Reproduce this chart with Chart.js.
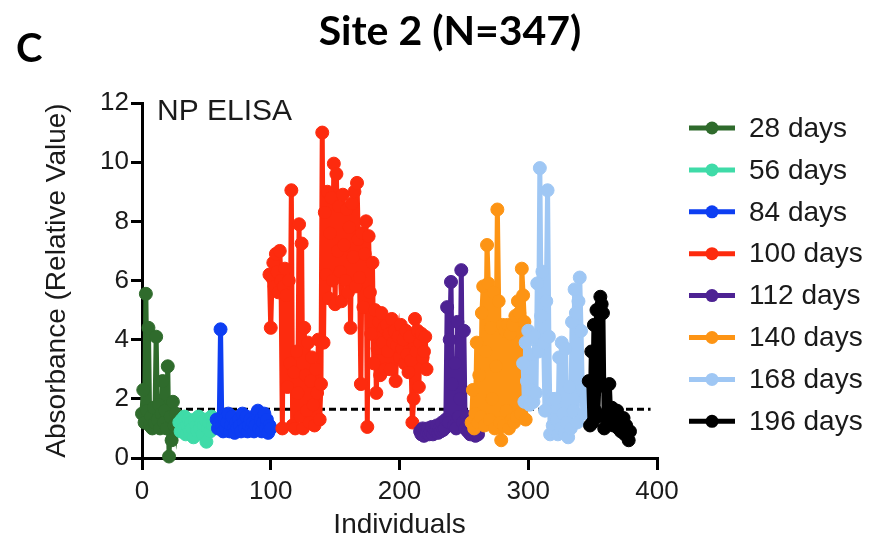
<!DOCTYPE html>
<html>
<head>
<meta charset="utf-8">
<script src="https://cdn.jsdelivr.net/npm/chart.js@4.4.0/dist/chart.umd.min.js"></script>
<style>
  html, body { margin: 0; padding: 0; background: #ffffff; }
  #wrap { width: 883px; height: 547px; position: relative; }
</style>
</head>
<body>
<div id="wrap"><canvas id="c" width="883" height="547"></canvas></div>
<script>
// ---- Data ----
const categories = ['28 days', '56 days', '84 days', '100 days', '112 days', '140 days', '168 days', '196 days'];
const colors = ['#2f6b2c', '#3fdba8', '#0d3ef2', '#fd2b0e', '#4d2293', '#fd9414', '#9fc7f4', '#000000'];
const joins = ['miter', 'round', 'round', 'miter', 'round', 'miter', 'round', 'round'];
// first individual index of each group (x = start + position in group)
const xStarts = [0, 29, 58, 99, 216, 256, 296, 347];

const y28 = [1.5, 2.3, 1.2, 5.55, 1.6, 4.4, 1.1, 1.4, 1.0, 1.7, 1.2, 4.1, 1.3, 1.8, 1.0, 1.5, 2.6, 1.2, 1.6, 1.0, 3.1, 0.05, 1.4, 0.6, 1.9, 1.1, 1.5, 1.0, 1.3];
const y56 = [1.2, 0.9, 1.3, 1.0, 1.4, 0.8, 1.1, 1.3, 0.9, 1.2, 1.0, 0.7, 1.3, 1.1, 0.9, 1.4, 1.0, 1.2, 0.8, 1.1, 1.3, 0.55, 1.0, 1.2, 0.9, 1.4, 1.1, 1.3];
const y84 = [1.3, 1.0, 1.2, 4.35, 1.1, 0.9, 1.3, 1.0, 1.2, 1.5, 0.9, 1.1, 1.4, 1.0, 0.85, 1.2, 1.0, 1.3, 1.1, 0.9, 1.5, 1.2, 1.0, 1.4, 0.9, 1.1, 1.3, 1.0, 1.2, 0.9, 1.1, 1.5, 1.6, 1.0, 1.3, 0.9, 1.2, 1.5, 1.0, 1.3, 0.85, 1.1, 1.0];
const y100 = [6.2, 4.4, 6.1, 6.6, 5.8, 6.9, 6.3, 5.6, 7.0, 6.0, 1.0, 5.8, 6.4, 5.5, 2.4, 6.0, 3.2, 9.05, 1.1, 2.9,
              1.0, 3.6, 2.2, 7.9, 1.4, 7.25, 1.0, 4.4, 2.8, 1.6, 3.9, 1.2, 2.6, 3.4, 1.8, 1.1, 3.0, 2.2, 4.0, 1.3,
              2.5, 11.0, 3.9, 8.3, 6.2, 9.0, 5.4, 7.6, 8.8, 6.0, 9.95, 5.2, 9.6, 7.0, 8.5, 6.3, 5.3, 8.9, 7.2, 6.0,
              8.4, 5.6, 7.8, 4.4, 8.6, 6.8, 9.0, 5.8, 9.3, 7.4, 6.1, 2.5, 7.6, 5.1, 6.9, 8.0, 1.05, 7.5, 5.6, 4.2,
              6.6, 3.2, 5.0, 2.2, 3.7, 4.6, 2.8, 4.9, 3.9, 4.4, 3.0, 4.5, 3.6, 4.2, 3.0, 4.7, 3.9, 4.3, 2.6, 3.8,
              4.1, 3.4, 4.5, 3.7, 4.0, 3.2, 4.3, 3.5, 2.9, 4.1, 3.3, 1.2, 2.0, 4.7, 3.6, 4.3, 2.4, 3.9, 4.2, 3.4,
              3.6, 4.1, 3.0];
const y112 = [0.9, 0.8, 1.0, 0.75, 0.95, 0.85, 1.0, 0.8, 0.9, 1.05, 0.8, 0.95, 0.9, 1.1, 0.85, 1.0, 0.9, 1.2, 0.95, 1.0,
              1.3, 5.1, 1.2, 4.0, 5.95, 2.5, 1.1, 3.2, 1.0, 4.6, 1.4, 2.0, 6.35, 1.2, 4.3, 1.0, 1.4, 0.9, 1.2, 0.8,
              1.1, 0.9, 1.0, 0.75, 0.9, 0.8];
const y140 = [1.2, 2.3, 1.0, 1.5, 3.9, 1.2, 2.8, 1.4, 4.9, 5.8, 1.1, 3.6, 7.2, 5.9, 1.3, 4.4, 2.0, 5.6, 1.0, 3.1,
              8.4, 5.3, 1.2, 0.6, 4.5, 1.1, 4.3, 1.6, 4.5, 1.0, 4.2, 1.3, 4.5, 1.2, 4.8, 1.4, 5.3, 4.9, 1.5, 6.4,
              5.5, 4.6, 1.3];
const y168 = [3.2, 1.9, 3.9, 2.6, 4.3, 1.8, 2.3, 3.5, 1.9, 4.1, 2.2, 5.9, 3.6, 9.8, 4.8, 6.3, 3.9, 1.6, 5.3, 9.05,
              4.1, 0.8, 2.0, 1.1, 0.95, 2.0, 1.3, 0.8, 3.4, 1.0, 3.9, 1.5, 0.85, 3.7, 1.2, 0.7, 2.4, 1.0, 4.6, 1.6,
              5.7, 4.9, 1.2, 5.3, 6.1, 4.3, 2.3, 1.5, 2.0, 1.8, 2.2];
const y196 = [2.6, 1.1, 3.6, 1.2, 4.5, 1.6, 5.0, 1.4, 2.7, 5.45, 5.2, 4.9, 1.0, 2.4, 1.5, 1.2, 2.5, 1.4, 1.7, 1.1,
              1.5, 1.2, 1.6, 1.0, 1.3, 0.9, 1.2, 1.35, 0.8, 1.1, 0.95, 0.6, 0.9];
const seriesValues = [y28, y56, y84, y100, y112, y140, y168, y196];

const thresholdValue = 1.65;
const thresholdRange = [0, 395];
const xTicks = [0, 100, 200, 300, 400];
const yTicks = [0, 2, 4, 6, 8, 10, 12];

// ---- Build datasets ----
const datasets = seriesValues.map((vals, k) => ({
  label: categories[k],
  data: vals.map((v, i) => ({ x: xStarts[k] + i, y: v })),
  showLine: true,
  borderColor: colors[k],
  backgroundColor: colors[k],
  pointBackgroundColor: colors[k],
  pointBorderColor: colors[k],
  pointBorderWidth: 1,
  pointRadius: 6.5,
  borderWidth: 5,
  borderJoinStyle: joins[k],
  clip: false,
  order: 50 - k
}));
datasets.push({
  label: 'threshold',
  data: thresholdRange.map(x => ({ x: x, y: thresholdValue })),
  showLine: true,
  borderColor: '#000000',
  borderWidth: 3,
  borderDash: [7, 4],
  pointRadius: 0,
  clip: false,
  order: 100
});

const FONT = "'Liberation Sans', Arial, Helvetica, sans-serif";
const TXT = '#1a1a1a';

const decorPlugin = {
  id: 'decor',
  afterDraw(chart) {
    const ctx = chart.ctx;
    ctx.save();
    // panel letter
    ctx.fillStyle = '#000';
    ctx.font = "bold 40px Lato, 'Open Sans', sans-serif";
    ctx.textAlign = 'left';
    ctx.textBaseline = 'alphabetic';
    ctx.fillText('C', 16, 62);
    // title
    ctx.textAlign = 'center';
    ctx.font = "bold 41px Lato, 'Open Sans', sans-serif";
    ctx.fillText('Site 2 (N=347)', 450, 45);
    // inner label
    ctx.textAlign = 'left';
    ctx.fillStyle = TXT;
    ctx.font = '30px ' + FONT;
    ctx.fillText('NP ELISA', 157, 120);
    // legend
    const rowY0 = 128, rowStep = 41.9;
    ctx.font = '28px ' + FONT;
    ctx.textBaseline = 'middle';
    categories.forEach((lab, k) => {
      const y = rowY0 + k * rowStep;
      ctx.strokeStyle = colors[k];
      ctx.lineWidth = 5;
      ctx.setLineDash([]);
      ctx.beginPath();
      ctx.moveTo(689, y);
      ctx.lineTo(735, y);
      ctx.stroke();
      ctx.fillStyle = colors[k];
      ctx.beginPath();
      ctx.arc(712, y, 6.5, 0, Math.PI * 2);
      ctx.fill();
      ctx.fillStyle = TXT;
      ctx.fillText(lab, 749, y + 1);
    });
    ctx.restore();
  }
};

new Chart(document.getElementById('c'), {
  type: 'scatter',
  data: { datasets: datasets },
  options: {
    responsive: false,
    animation: false,
    layout: { padding: { left: 0, right: 226, top: 103, bottom: 0 } },
    plugins: { legend: { display: false }, tooltip: { enabled: false }, title: { display: false } },
    scales: {
      x: {
        type: 'linear', min: 0, max: 400,
        afterBuildTicks: s => { s.ticks = xTicks.map(v => ({ value: v })); },
        afterFit: s => { s.height = 89; },
        ticks: { font: { family: FONT, size: 26 }, color: TXT, padding: 6, maxRotation: 0 },
        grid: { display: true, drawOnChartArea: false, drawTicks: true, tickLength: 12, lineWidth: 3, color: '#000' },
        border: { display: true, color: '#000', width: 3 },
        title: { display: true, text: 'Individuals', font: { family: FONT, size: 28 }, color: TXT, padding: { top: 0, bottom: 5 } }
      },
      y: {
        type: 'linear', min: 0, max: 12,
        afterBuildTicks: s => { s.ticks = yTicks.map(v => ({ value: v })); },
        afterFit: s => { s.width = 142; },
        ticks: { font: { family: FONT, size: 26 }, color: TXT, padding: 2 },
        grid: { display: true, drawOnChartArea: false, drawTicks: true, tickLength: 11, lineWidth: 3, color: '#000' },
        border: { display: true, color: '#000', width: 3 },
        title: { display: true, text: 'Absorbance (Relative Value)', font: { family: FONT, size: 28 }, color: TXT, padding: { top: 40, bottom: 0 } }
      }
    }
  },
  plugins: [decorPlugin]
});
</script>
</body>
</html>
